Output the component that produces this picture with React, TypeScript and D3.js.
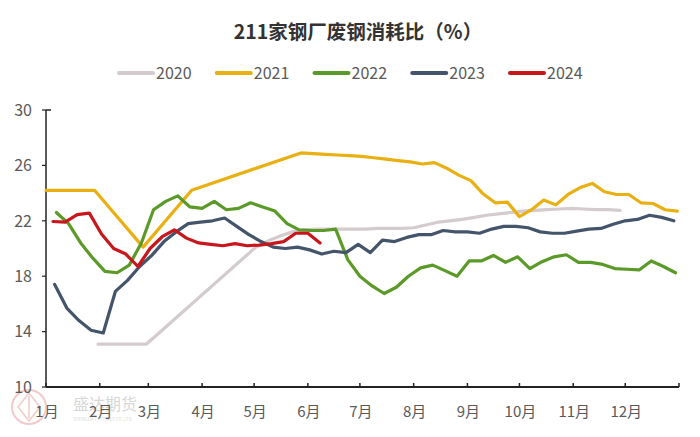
import React from 'react';
import * as d3 from 'd3';

const W = 700;
const H = 437;

const title = '211家钢厂废钢消耗比（%）';
const yearLabels = ['2020', '2021', '2022', '2023', '2024'];
const seriesColors = ['#d4cbce', '#e8b012', '#5b9a29', '#44546a', '#c8161d'];
const startDates = ['2020-01-31', '2021-01-01', '2022-01-07', '2023-01-06', '2024-01-05'];
const monthLabels = ['1月', '2月', '3月', '4月', '5月', '6月', '7月', '8月', '9月', '10月', '11月', '12月'];
const yTicks = [10, 14, 18, 22, 26, 30];

// weekly values (null = no observation; the line connects across gaps)
const v2020: (number | null)[] = [
  13.1, null, null, null, 13.1, null, null, null, null, null, null, null, null,
  20.1, 20.55, 20.9, 21.2, 21.35, 21.4, 21.4, 21.4, 21.4, 21.4, 21.45, 21.45, 21.45, 21.5,
  21.7, 21.9, 22.0, 22.1, 22.25, 22.4, 22.5, 22.6, 22.7, 22.75, 22.8, 22.85, 22.9, 22.85, 22.8, 22.8, 22.75,
];
const v2021: (number | null)[] = [
  24.2, null, null, null, 24.2, null, null, null, 20.1, null, null, null, 24.2,
  null, null, null, null, null, null, null, null,
  26.9, 26.85, 26.8, 26.75, 26.7, 26.65, 26.55, 26.45, 26.35, 26.25, 26.1, 26.2, 25.8, 25.3, 24.9, 23.95,
  23.3, 23.35, 22.3, 22.8, 23.5, 23.15, 23.9, 24.4, 24.7, 24.1, 23.9, 23.9, 23.3, 23.25, 22.8, 22.7,
];
const v2022: (number | null)[] = [
  22.6, 21.8, 20.4, 19.3, 18.35, 18.25, 18.8, 20.4, 22.8, 23.4, 23.8, 23.0, 22.9, 23.4, 22.8, 22.9,
  23.3, 23.0, 22.7, 21.8, 21.35, 21.3, 21.3, 21.4, 19.2, 18.0, 17.3, 16.75, 17.2, 18.0, 18.6, 18.8,
  18.4, 18.0, 19.1, 19.1, 19.5, 19.0, 19.4, 18.55, 19.05, 19.4, 19.55, 19.0, 19.0, 18.85, 18.55, 18.5,
  18.45, 19.1, 18.7, 18.25,
];
const v2023: (number | null)[] = [
  17.4, 15.7, 14.8, 14.1, 13.9, 16.9, 17.7, 18.7, 19.5, 20.5, 21.2, 21.8, 21.9, 22.0, 22.2, 21.6,
  21.0, 20.5, 20.1, 20.0, 20.1, 19.9, 19.6, 19.8, 19.7, 20.3, 19.7, 20.6, 20.5, 20.8, 21.0, 21.0,
  21.3, 21.2, 21.2, 21.1, 21.4, 21.6, 21.6, 21.5, 21.2, 21.1, 21.1, 21.25, 21.4, 21.45, 21.75, 22.0,
  22.1, 22.4, 22.25, 22.0,
];
const v2024: (number | null)[] = [
  21.95, 21.9, 22.45, 22.55, 21.05, 20.0, 19.6, 18.7, 20.0, 20.85, 21.35, 20.75, 20.4, 20.3, 20.2,
  20.35, 20.2, 20.25, 20.35, 20.5, 21.1, 21.1, 20.4,
];
const seriesValues = [v2020, v2021, v2022, v2023, v2024];

const parse = d3.timeParse('%Y-%m-%d');
const dayOfYear = (s: string) => {
  const d = parse(s) as Date;
  return d3.timeDay.count(d3.timeYear(d), d);
};

const refYearStart = new Date(2021, 0, 1);
const monthStarts = d3.timeMonths(refYearStart, new Date(2022, 0, 2)).map((m) =>
  d3.timeDay.count(refYearStart, m)
);

const x = d3.scaleLinear().domain([0, 365]).range([46, 679]);
const y = d3.scaleLinear().domain([10, 30]).range([387, 110]);

const FONT = '"Noto Sans CJK SC", "Noto Sans", sans-serif';
const LABEL = '#595959';

export default function App() {
  const lineGen = d3
    .line<{ d: number; v: number }>()
    .x((p) => x(p.d))
    .y((p) => y(p.v));

  const paths = seriesValues.map((vals, k) => {
    const s = dayOfYear(startDates[k]);
    const pts = vals
      .map((v, i) => ({ d: s + 7 * i, v }))
      .filter((p) => p.v !== null) as { d: number; v: number }[];
    return lineGen(pts) || '';
  });

  const legendX = d3.scaleLinear().domain([0, 4]).range([117, 508]);

  return (
    <svg
      width={W}
      height={H}
      style={{ position: 'absolute', left: 0, top: 0, background: '#fff' }}
      fontFamily={FONT}
    >
      <rect x={0} y={0} width={W} height={H} fill="#fff" />
      <text x={358} y={39} textAnchor="middle" fontSize={19.5} fontWeight="bold" fill="#333">
        {title}
      </text>

      {/* legend */}
      {yearLabels.map((lab, k) => (
        <g key={lab}>
          <line
            x1={legendX(k) + 2}
            x2={legendX(k) + 36}
            y1={73}
            y2={73}
            stroke={seriesColors[k]}
            strokeWidth={4}
            strokeLinecap="round"
          />
          <text x={legendX(k) + 39} y={73} dy="0.36em" fontSize={16} fill={LABEL}>
            {lab}
          </text>
        </g>
      ))}

      {/* watermark */}
      <g opacity={0.55}>
        <circle cx={29} cy={407} r={17} fill="none" stroke="#eaa0a0" strokeWidth={2} />
        <path d="M29,393 L40,407 L29,421 L18,407 Z" fill="none" stroke="#eaa0a0" strokeWidth={1.5} />
        <path d="M29,396 L29,418" stroke="#eaa0a0" strokeWidth={1.5} />
        <text x={73} y={410} fontSize={16} fill="#b8b8b8">盛达期货</text>
        <text x={73} y={421} fontSize={4.5} fill="#b8b8b8">SHENGDA FUTURES CO.,LTD</text>
      </g>

      {/* y axis */}
      <line x1={46} x2={46} y1={y(30)} y2={y(10)} stroke="#222" strokeWidth={1.5} />
      <line x1={46} x2={51} y1={y(30)} y2={y(30)} stroke="#222" strokeWidth={1.5} />
      {yTicks.map((t) => (
        <g key={t}>
          <line x1={42} x2={46} y1={y(t)} y2={y(t)} stroke="#222" strokeWidth={1.2} />
          <text x={32} y={y(t)} dy="0.36em" textAnchor="end" fontSize={16} fill={LABEL}>
            {t}
          </text>
        </g>
      ))}

      {/* series */}
      {paths.map((d, k) => (
        <path
          key={yearLabels[k]}
          d={d}
          fill="none"
          stroke={seriesColors[k]}
          strokeWidth={3.2}
          strokeLinejoin="round"
          strokeLinecap="round"
        />
      ))}

      {/* x axis */}
      <line x1={46} x2={679} y1={387} y2={387} stroke="#222" strokeWidth={1.8} />
      {monthStarts.map((m, i) => (
        <line key={'t' + i} x1={x(m)} x2={x(m)} y1={387} y2={383} stroke="#222" strokeWidth={1.5} />
      ))}
      {monthLabels.map((lab, i) => (
        <text
          key={lab}
          x={x(monthStarts[i]) + 1}
          y={412}
          dy="0.36em"
          textAnchor="middle"
          fontSize={15}
          fill={LABEL}
        >
          {lab}
        </text>
      ))}
    </svg>
  );
}
